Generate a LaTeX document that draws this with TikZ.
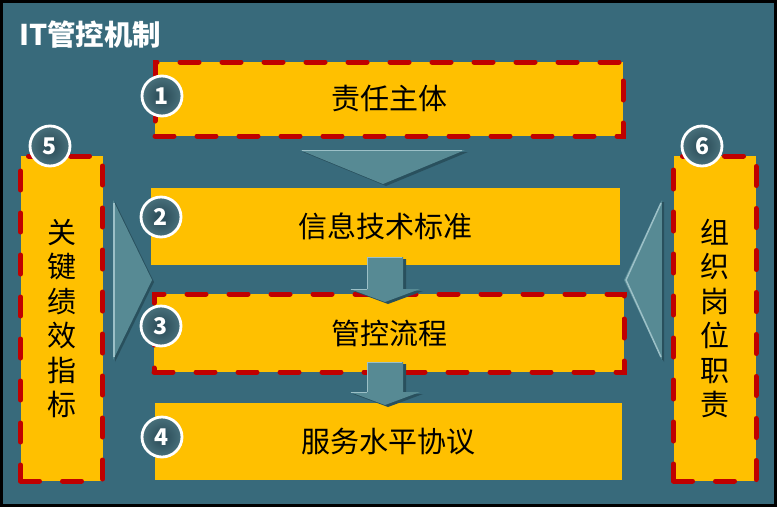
\documentclass[tikz,border=0pt]{standalone}
\usepackage{fontspec}
\setmainfont{Noto Sans CJK SC}
\definecolor{bg}{HTML}{386A7B}
\definecolor{ybox}{HTML}{FFC000}
\definecolor{dred}{HTML}{C00000}
\definecolor{arrfill}{HTML}{578A94}
\definecolor{arrlight}{HTML}{9CC0C7}
\definecolor{arrdark}{HTML}{29505D}
\definecolor{balldark}{HTML}{284854}
\definecolor{balllight}{HTML}{6A9AA4}
\pgfdeclareradialshading{numball}{\pgfpoint{0bp}{0bp}}{color(0bp)=(balldark); color(20bp)=(balldark!60!balllight); color(50bp)=(balllight)}
\begin{document}
\begin{tikzpicture}[x=1pt,y=-1pt,
  ybox/.style={fill=ybox, draw=none, inner sep=0pt, font=\fontsize{29}{34.5}\selectfont, text=black},
  dashbox/.style={ybox, draw=dred, line width=5pt, line cap=round, dash pattern=on 19pt off 23pt},
  numc/.style={circle, shading=numball, draw=white, line width=2.8pt, minimum size=40pt, inner sep=0pt, text=white, font=\fontsize{23}{23}\selectfont\bfseries},
  arr/.style={fill=arrfill, draw=none},
  arrshadow/.style={fill=arrdark, draw=none},
  arrhl/.style={draw=arrlight, line width=1.5pt}
]
\useasboundingbox (0,0) rectangle (777,507);
\fill[black] (0,0) rectangle (777,507);
\fill[bg] (3,3) rectangle (774,504);

% title
\node[anchor=base west, inner sep=0pt, text=white, font=\fontsize{28.5}{28.5}\selectfont\bfseries] (title) at (19,45) {IT管控机制};

% side triangles and top triangle
\fill[arrshadow] (115,202) -- (154,282) -- (115,362) -- cycle;
\fill[arr] (113,200) -- (152,280) -- (113,360) -- cycle;
\draw[arrhl] (114,203) -- (114,357);

\fill[arrshadow] (664,202) -- (626,282) -- (664,362) -- cycle;
\fill[arr] (662,200) -- (624,280) -- (662,360) -- cycle;
\draw[arrhl] (661,203) -- (626,280) -- (661,357);
\draw[arrdark, line width=2pt] (663,202) -- (663,360);

\fill[arrshadow] (303,152) -- (468,152) -- (386,186) -- cycle;
\fill[arr] (300,150) -- (465,150) -- (383,184) -- cycle;
\draw[arrhl] (302,150.5) -- (462,150.5);

% boxes
\node[dashbox, minimum width=468pt, minimum height=74pt] (b1) at (389,99) {责任主体};
\node[ybox, minimum width=469pt, minimum height=77pt] (b2) at (385.5,226.5) {信息技术标准};
\node[dashbox, minimum width=470pt, minimum height=78pt] (b3) at (389,333) {管控流程};
\node[ybox, minimum width=467pt, minimum height=77pt] (b4) at (388.5,441.5) {服务水平协议};
\node[dashbox, minimum width=82pt, minimum height=325pt, align=center] (b5) at (61.5,318.5) {关\\键\\绩\\效\\指\\标};
\node[dashbox, minimum width=82.5pt, minimum height=325pt, align=center] (b6) at (714.75,318.5) {组\\织\\岗\\位\\职\\责};

% down block arrows
\fill[arrshadow] (370,259) -- (406,259) -- (406,291) -- (423,291) -- (388,304) -- (353,291) -- (370,291) -- cycle;
\fill[arr] (367,257) -- (403,257) -- (403,289) -- (420,289) -- (385,302) -- (350,289) -- (367,289) -- cycle;
\draw[arrhl] (367.5,289) -- (367.5,257.5) -- (402,257.5);
\draw[arrhl] (351,289.5) -- (367,289.5);

\fill[arrshadow] (370,364) -- (406,364) -- (406,394) -- (423,394) -- (388,407) -- (353,394) -- (370,394) -- cycle;
\fill[arr] (367,362) -- (403,362) -- (403,392) -- (420,392) -- (385,405) -- (350,392) -- (367,392) -- cycle;
\draw[arrhl] (367.5,392) -- (367.5,362.5) -- (402,362.5);
\draw[arrhl] (351,392.5) -- (367,392.5);

% number circles
\node[numc] (c1) at (162,96) {1};
\node[numc] (c2) at (161,217) {2};
\node[numc] (c3) at (161,326) {3};
\node[numc] (c4) at (162,437) {4};
\node[numc] (c5) at (50,146) {5};
\node[numc] (c6) at (702,146) {6};
\end{tikzpicture}
\end{document}
